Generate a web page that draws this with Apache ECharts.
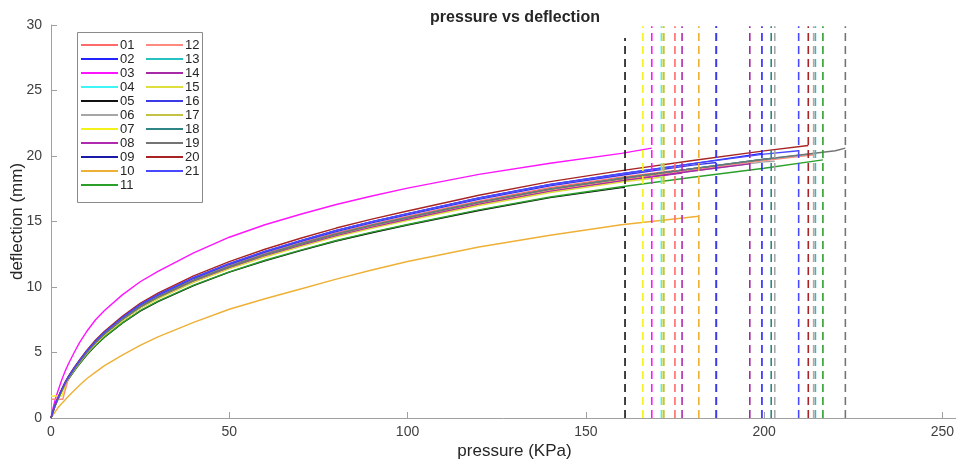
<!DOCTYPE html>
<html>
<head>
<meta charset="utf-8">
<script src="https://cdn.jsdelivr.net/npm/echarts@6/dist/echarts.min.js"></script>
<style>
html,body{margin:0;padding:0;background:#fff;overflow:hidden;}
#chart{width:956px;height:465px;}
</style>
</head>
<body>
<div id="chart"></div>
<script>
// ---------------- data ----------------
const seriesNames = ['01','02','03','04','05','06','07','08','09','10','11','12','13','14','15','16','17','18','19','20','21'];
const seriesColors = ['#ff6a6a','#2424ff','#ff14ff','#3ff5f5','#111111','#a6a6a6','#f2f21a','#b02ab0','#1a1aa6','#eeb035','#2aa02a','#ff8a80','#26c2c2','#a62aa6','#dede3c','#3a3ae6','#c2c244','#2f8585','#747474','#a82424','#4848ff'];

// pressure (KPa) at which the curves were read
const pressureGrid = [0,0.5,1,1.5,2,3,4,5,6.5,8,10,12.5,15,20,25,30,40,50,60,70,80,90,100,120,140,160,180,200,220];

// deflection (mm) read at each grid pressure (null = curve not drawn there)
const d01 = [0,0.46,0.86,1.22,1.52,2.13,2.69,3.15,3.76,4.32,5.03,5.79,6.45,7.57,8.53,9.3,10.57,11.63,12.55,13.36,14.12,14.78,15.39,16.56,17.58,18.39];
const d02 = [0,0.46,0.88,1.24,1.55,2.16,2.73,3.19,3.81,4.38,5.1,5.87,6.54,7.67,8.65,9.42,10.71,11.79,12.72,13.54,14.32,14.99,15.6,16.79,17.82,18.64,19.42];
const d03 = [0,0.65,1.2,1.7,2.1,2.9,3.6,4.2,5.0,5.75,6.6,7.5,8.2,9.4,10.4,11.2,12.6,13.8,14.75,15.55,16.3,16.95,17.55,18.6,19.45,20.2];
const d04 = [0,0.45,0.85,1.21,1.51,2.11,2.66,3.12,3.72,4.27,4.97,5.73,6.38,7.49,8.44,9.2,10.45,11.51,12.41,13.22,13.97,14.62,15.23,16.38,17.39,18.19];
const d05 = [0,0.44,0.83,1.17,1.46,2.04,2.58,3.01,3.6,4.13,4.81,5.54,6.17,7.24,8.16,8.89,10.11,11.13,12.0,12.78,13.51,14.14,14.73,15.84,16.82,17.59];
const d06 = [0,0.45,0.85,1.2,1.5,2.1,2.65,3.1,3.7,4.25,4.95,5.7,6.35,7.45,8.4,9.15,10.4,11.45,12.35,13.15,13.9,14.55,15.15,16.3,17.3,18.1,18.85,19.55];
const d07 = [null,null,null,null,null,null,null,3.13,3.74,4.29,5.0,5.76,6.41,7.52,8.48,9.24,10.5,11.56,12.47,13.28,14.04,14.7,15.3,16.46,17.47,18.28];
const d08 = [0,0.45,0.85,1.2,1.5,2.1,2.65,3.1,3.7,4.25,4.95,5.7,6.35,7.45,8.4,9.15,10.4,11.45,12.35,13.15,13.9,14.55,15.15,16.3,17.3,18.1];
const d09 = [0,0.45,0.86,1.21,1.52,2.12,2.68,3.13,3.74,4.29,5.0,5.76,6.41,7.52,8.48,9.24,10.5,11.56,12.47,13.28,14.04,14.7,15.3,16.46,17.47,18.28,19.04];
const d10 = [0,0.2,0.4,0.6,0.8,1.1,1.4,1.7,2.1,2.5,3.0,3.5,4.0,4.8,5.55,6.2,7.3,8.3,9.1,9.85,10.6,11.3,11.95,13.05,13.95,14.75];
const d11 = [0,0.44,0.83,1.17,1.46,2.05,2.58,3.02,3.61,4.14,4.83,5.56,6.19,7.26,8.19,8.92,10.14,11.16,12.04,12.82,13.55,14.19,14.77,15.89,16.87,17.65,18.38,19.06];
const d12 = [null,null,null,null,null,null,null,3.12,3.72,4.27,4.97,5.73,6.38,7.49,8.44,9.2,10.45,11.51,12.41,13.22,13.97,14.62,15.23,16.38,17.39,18.19,18.94,19.65];
const d13 = [0,0.45,0.86,1.21,1.52,2.12,2.68,3.13,3.74,4.29,5.0,5.76,6.41,7.52,8.48,9.24,10.5,11.56,12.47,13.28,14.04,14.7,15.3,16.46,17.47,18.28,19.04,19.75];
const d14 = [0,0.45,0.85,1.2,1.5,2.1,2.65,3.1,3.7,4.25,4.95,5.7,6.35,7.45,8.4,9.15,10.4,11.45,12.35,13.15,13.9,14.55,15.15,16.3,17.3,18.1,18.85];
const d15 = [0,0.45,0.85,1.19,1.49,2.09,2.64,3.08,3.68,4.23,4.93,5.67,6.32,7.41,8.36,9.1,10.35,11.39,12.29,13.08,13.83,14.48,15.07,16.22,17.21,18.01];
const d16 = [0,0.46,0.87,1.23,1.54,2.15,2.71,3.17,3.79,4.35,5.07,5.84,6.5,7.63,8.6,9.37,10.65,11.72,12.65,13.47,14.23,14.9,15.51,16.69,17.72,18.53,19.3];
const d17 = [0,0.45,0.86,1.21,1.52,2.12,2.68,3.13,3.74,4.29,5.0,5.76,6.41,7.52,8.48,9.24,10.5,11.56,12.47,13.28,14.04,14.7,15.3,16.46,17.47,18.28];
const d18 = [0,0.45,0.86,1.21,1.52,2.12,2.68,3.13,3.74,4.29,5.0,5.76,6.41,7.52,8.48,9.24,10.5,11.56,12.47,13.28,14.04,14.7,15.3,16.46,17.47,18.28,19.04,19.75];
const d19 = [0,0.45,0.86,1.21,1.52,2.12,2.68,3.13,3.74,4.29,5.0,5.76,6.41,7.52,8.48,9.24,10.5,11.56,12.47,13.28,14.04,14.7,15.3,16.46,17.47,18.28,19.04,19.75,20.4];
const d20 = [0,0.47,0.89,1.25,1.56,2.19,2.76,3.23,3.86,4.43,5.16,5.95,6.62,7.77,8.76,9.54,10.85,11.94,12.88,13.72,14.5,15.18,15.8,17.0,18.04,18.88,19.66,20.39];
const d21 = [0,0.46,0.88,1.24,1.55,2.16,2.73,3.19,3.81,4.38,5.1,5.87,6.54,7.67,8.65,9.42,10.71,11.79,12.72,13.54,14.32,14.99,15.6,16.79,17.82,18.64,19.42,20.14];
const deflections = [d01,d02,d03,d04,d05,d06,d07,d08,d09,d10,d11,d12,d13,d14,d15,d16,d17,d18,d19,d20,d21];

// starting plateau of series 07 and 12
const leadPressure07 = [0, 3.0];
const leadDeflection07 = [1.68, 1.68];
const leadPressure12 = [0, 3.3];
const leadDeflection12 = [1.43, 1.43];

// maximum pressure reached and the deflection there (one per series)
const endPressure   = [175.0,199.4,168.5,171.2,161.0,203.0,166.0,177.0,186.6,181.7,216.5,213.9,214.4,196.0,171.7,186.6,171.9,202.0,222.8,212.4,209.7];
const endDeflection = [18.9,20.2,20.6,18.6,17.6,19.6,18.5,18.7,19.2,15.4,19.7,20.1,20.2,19.4,18.4,19.5,18.7,19.8,20.6,20.8,20.4];
// top of the dashed max-pressure markers
const markerTop = [29.9,29.9,29.9,29.9,29,29.9,29.9,29.9,29.9,29.9,29.9,29.9,29.9,29.9,29.9,29.9,29.9,29.9,29.9,29.9,29.9];

const xTicks = [0,50,100,150,200,250];

// ---------------- build ----------------
const FONT = "'Liberation Sans', Arial, Helvetica, sans-serif";
const series = [];
seriesNames.forEach((name, i) => {
  const pts = [];
  if (name === '07') leadPressure07.forEach((p, k) => pts.push([p, leadDeflection07[k]]));
  if (name === '12') leadPressure12.forEach((p, k) => pts.push([p, leadDeflection12[k]]));
  deflections[i].forEach((d, k) => {
    if (d !== null && pressureGrid[k] < endPressure[i]) pts.push([pressureGrid[k], d]);
  });
  pts.push([endPressure[i], endDeflection[i]]);
  series.push({
    name: name, type: 'line', data: pts, showSymbol: false, symbol: 'none',
    smooth: false,
    lineStyle: { color: seriesColors[i], width: 1.4 },
    itemStyle: { color: seriesColors[i] },
    emphasis: { disabled: true }, animation: false, z: 2
  });
});
seriesNames.forEach((name, i) => {
  series.push({
    name: name + ' max', type: 'line',
    data: [[endPressure[i], 0], [endPressure[i], markerTop[i]]],
    showSymbol: false, symbol: 'none',
    lineStyle: { color: seriesColors[i], width: 1.6, type: [8, 5] },
    emphasis: { disabled: true }, animation: false, z: 3
  });
});

const legendCommon = {
  orient: 'vertical', icon: 'rect', itemWidth: 37, itemHeight: 2, itemGap: 0,
  textStyle: { fontFamily: FONT, fontSize: 13, color: '#262626', lineHeight: 14, padding: [0,0,0,-3] },
  selectedMode: false, padding: 0
};

const chart = echarts.init(document.getElementById('chart'), null, { renderer: 'canvas' });
chart.setOption({
  animation: false,
  backgroundColor: '#ffffff',
  title: {
    text: 'pressure vs deflection', left: 510, top: 5, textAlign: 'center',
    textStyle: { fontFamily: FONT, fontSize: 16, fontWeight: 'bold', color: '#262626' }
  },
  legend: [
    Object.assign({ data: seriesNames.slice(0, 11), left: 81, top: 38 }, legendCommon),
    Object.assign({ data: seriesNames.slice(11), left: 146, top: 38 }, legendCommon)
  ],
  graphic: [{
    type: 'rect', shape: { x: 77.5, y: 32.5, width: 125, height: 170 },
    style: { fill: '#ffffff', stroke: '#8a8a8a', lineWidth: 1 }, z: 0, zlevel: 0
  }],
  grid: { left: 51, right: -22, top: 25, bottom: 47, containLabel: false, outerBoundsMode: 'none' },
  xAxis: {
    type: 'value', min: 0, max: 260,
    name: 'pressure (KPa)', nameLocation: 'middle', nameGap: 25, nameMoveOverlap: false,
    nameTextStyle: { fontFamily: FONT, fontSize: 17, color: '#262626' },
    axisLine: { lineStyle: { color: '#a0a0a0', width: 1 } },
    axisTick: { inside: true, length: 6, lineStyle: { color: '#a0a0a0' }, customValues: xTicks },
    axisLabel: { customValues: xTicks, fontFamily: FONT, fontSize: 14, color: '#404040', margin: 7 },
    splitLine: { show: false }
  },
  yAxis: {
    type: 'value', min: 0, max: 30, interval: 5,
    name: 'deflection (mm)', nameLocation: 'middle', nameGap: 25, nameMoveOverlap: false,
    nameTextStyle: { fontFamily: FONT, fontSize: 17, color: '#262626' },
    axisLine: { show: true, lineStyle: { color: '#a0a0a0', width: 1 } },
    axisTick: { show: true, inside: true, length: 6, lineStyle: { color: '#a0a0a0' } },
    axisLabel: { fontFamily: FONT, fontSize: 14, color: '#404040', margin: 9 },
    splitLine: { show: false }
  },
  series: series
});
</script>
</body>
</html>
